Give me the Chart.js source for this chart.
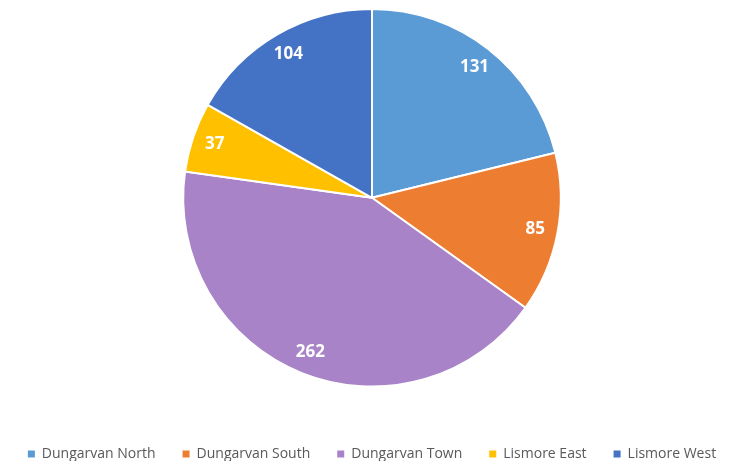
<!DOCTYPE html>
<html>
<head>
<meta charset="utf-8">
<script src="https://cdn.jsdelivr.net/npm/chart.js@4/dist/chart.umd.min.js"></script>
<style>
  html, body { margin: 0; padding: 0; background: #fff; }
  #wrap { width: 744px; height: 461px; }
</style>
</head>
<body>
<div id="wrap"><canvas id="pie-graph"></canvas></div>
<script>
var labels = ['Dungarvan North', 'Dungarvan South', 'Dungarvan Town', 'Lismore East', 'Lismore West'];
var values = [131, 85, 262, 37, 104];
var colors = ['#5B9BD5', '#ED7D31', '#A983C8', '#FFC000', '#4472C4'];

// white numbers inside each slice, near the outer edge
var sliceLabels = {
    id: 'sliceLabels',
    afterDatasetsDraw: function(chart) {
        var ctx = chart.ctx;
        var meta = chart.getDatasetMeta(0);
        ctx.save();
        ctx.fillStyle = '#fff';
        ctx.font = 'bold 17px "Open Sans"';
        ctx.textAlign = 'center';
        ctx.textBaseline = 'middle';
        meta.data.forEach(function(arc, i) {
            var mid = (arc.startAngle + arc.endAngle) / 2;
            var r = arc.outerRadius * 0.88;
            ctx.fillText(values[i], arc.x + Math.cos(mid) * r, arc.y + Math.sin(mid) * r);
        });
        ctx.restore();
    }
};

var ctx = document.getElementById('pie-graph');
new Chart(ctx, {
    type: 'pie',
    data: {
        labels: labels,
        datasets: [{
            data: values,
            backgroundColor: colors,
            borderColor: '#fff',
            borderWidth: 2
        }]
    },
    options: {
        responsive: true,
        maintainAspectRatio: false,
        animation: false,
        layout: {
            padding: { top: 8, bottom: -10 }
        },
        plugins: {
            tooltip: { enabled: false },
            legend: {
                position: 'bottom',
                title: {
                    display: true,
                    text: '',
                    font: { size: 12 },
                    padding: { top: 18, bottom: 0 }
                },
                labels: {
                    boxWidth: 7,
                    boxHeight: 7,
                    padding: 27,
                    color: '#595959',
                    font: { family: 'Open Sans', size: 14 },
                    generateLabels: function(chart) {
                        return labels.map(function(l, i) {
                            return {
                                text: l,
                                fillStyle: colors[i],
                                strokeStyle: colors[i],
                                lineWidth: 0,
                                fontColor: '#595959',
                                hidden: false,
                                index: i
                            };
                        });
                    }
                }
            }
        }
    },
    plugins: [sliceLabels]
});
</script>
</body>
</html>
